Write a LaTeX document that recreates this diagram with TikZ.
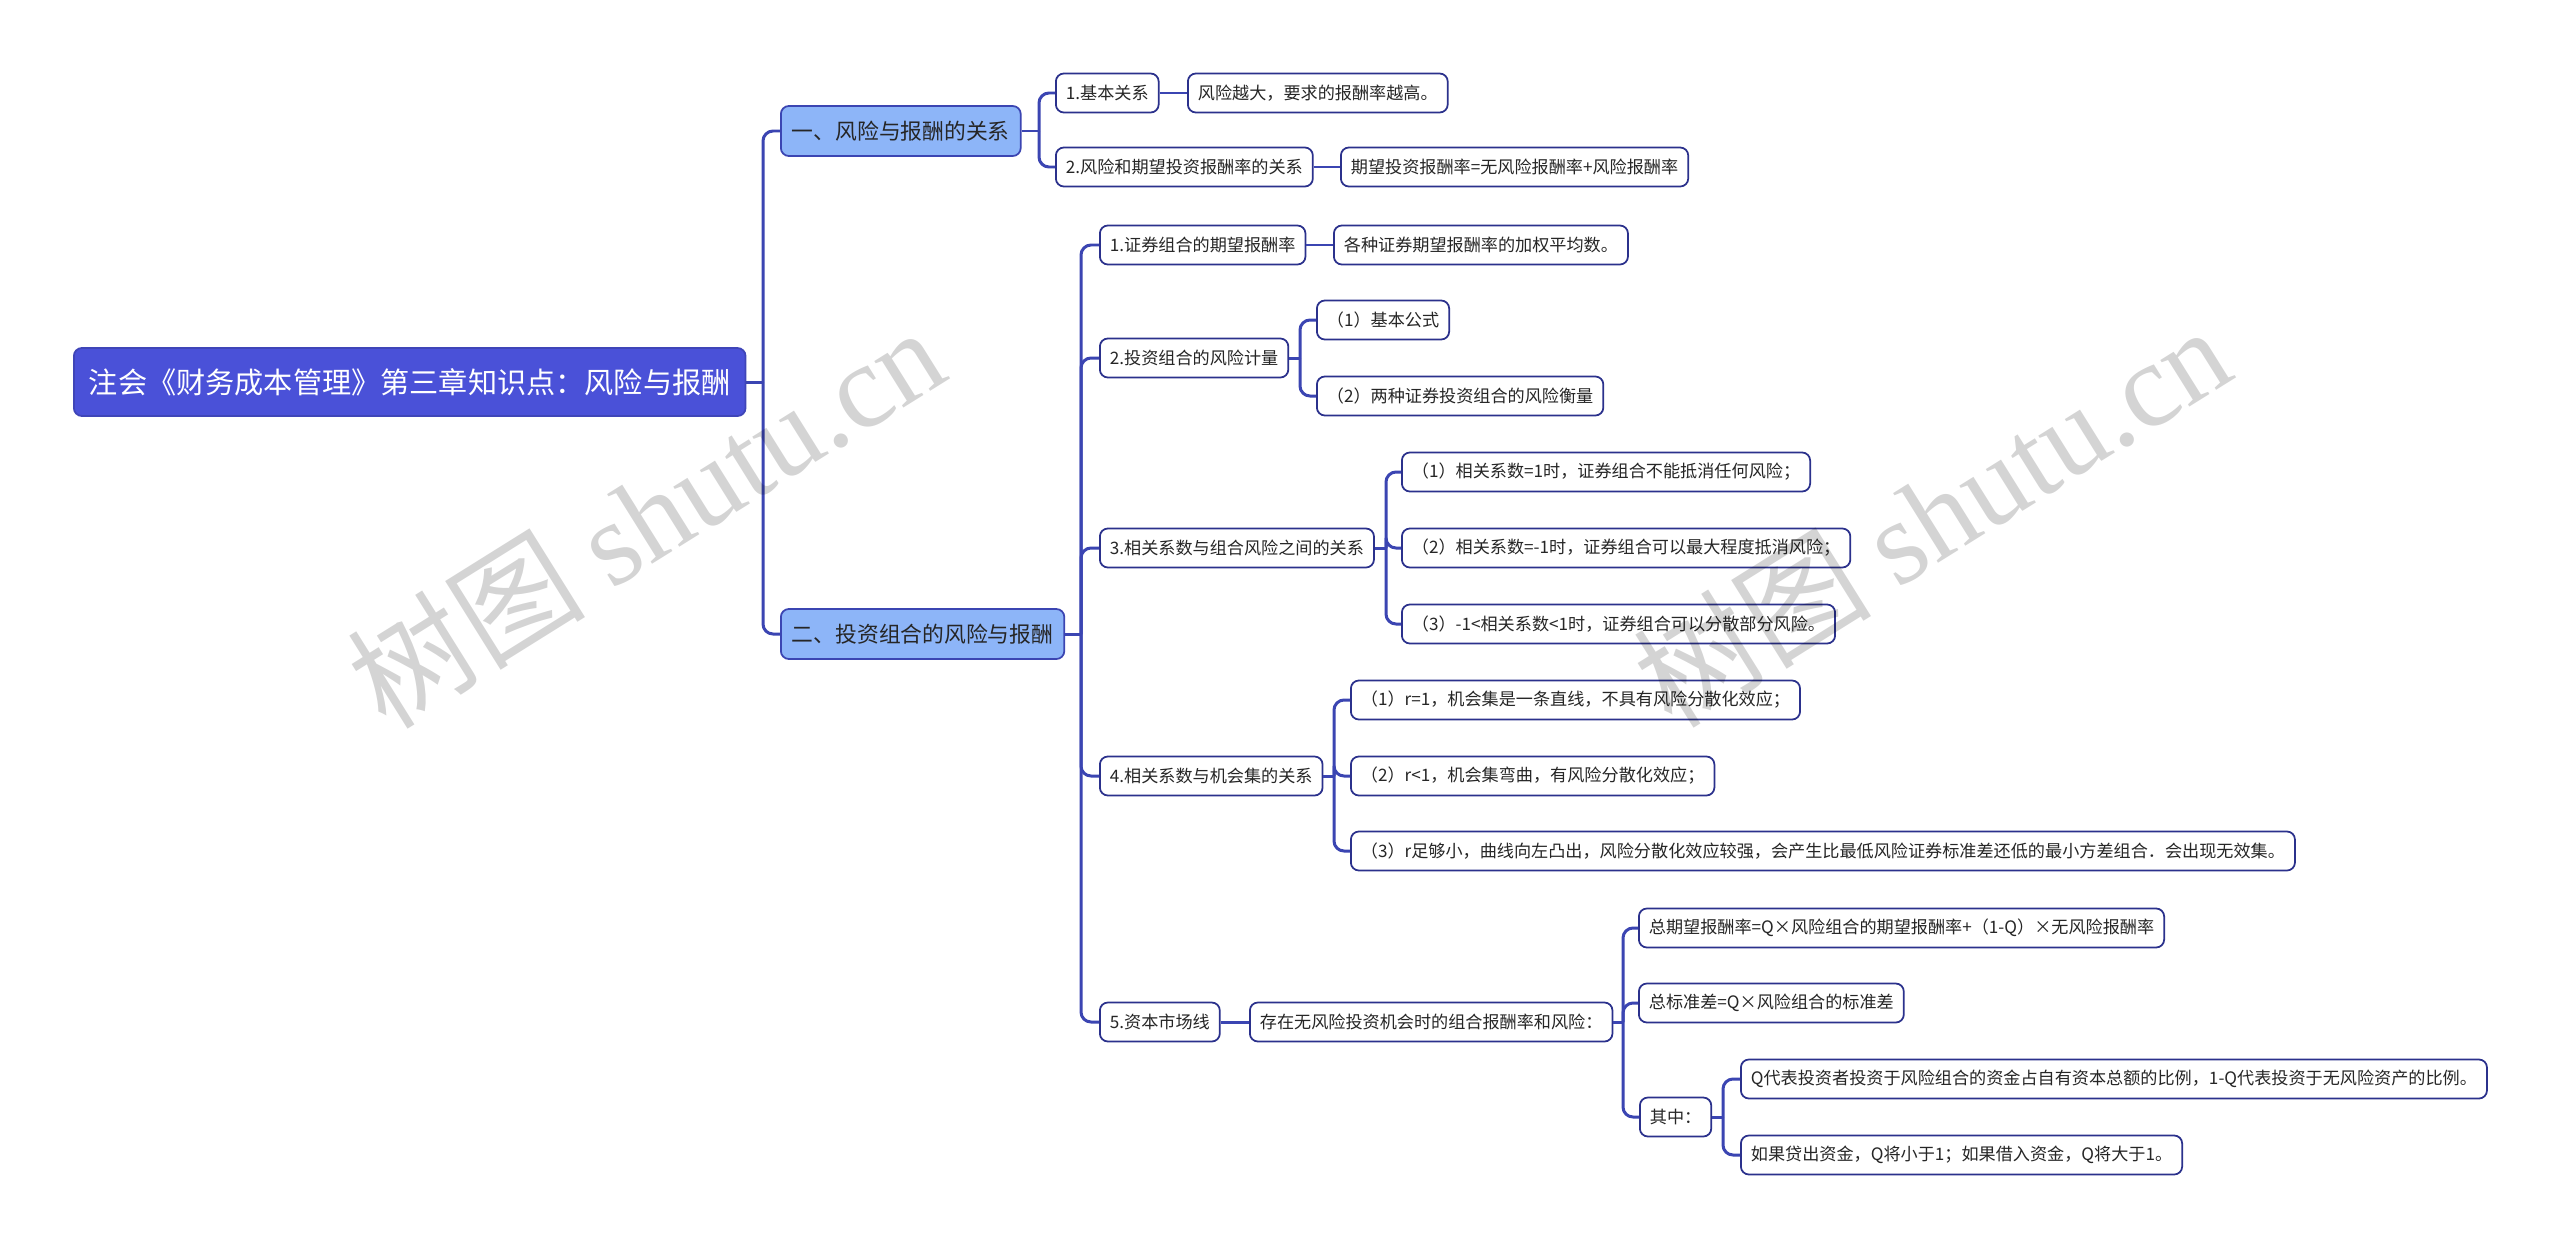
\documentclass[tikz,border=0pt]{standalone}
\usepackage{fontspec}
\setmainfont{Noto Sans CJK SC}
\newfontfamily\wmfont{Liberation Serif}
\definecolor{rootblue}{HTML}{4A51D8}
\definecolor{lineblue}{HTML}{3B45B2}
\definecolor{edgenavy}{HTML}{2B318C}
\definecolor{branchblue}{HTML}{8DB5F8}

\begin{document}
\begin{tikzpicture}[x=0.02cm, y=-0.02cm,
  root/.style={draw=rootblue!85!black, fill=rootblue, rounded corners=0.16cm, text=white,
               font=\fontsize{16.6}{20}\selectfont, inner xsep=0.3cm, inner ysep=0pt,
               minimum height=1.36cm, anchor=west, line width=1pt},
  branch/.style={draw=lineblue, fill=branchblue, rounded corners=0.16cm, text=black!85,
                 font=\fontsize{12.4}{15}\selectfont, inner xsep=0.22cm, inner ysep=0pt,
                 minimum height=1.0cm, anchor=west, line width=1pt},
  leaf/.style={draw=edgenavy, fill=white, rounded corners=0.16cm, text=black!85,
               font=\fontsize{9.75}{12}\selectfont, inner xsep=0.2cm, inner ysep=0pt,
               minimum height=0.78cm, anchor=west, line width=1pt},
  conn/.style={draw=lineblue, line width=1.7pt, rounded corners=0.2cm},
  wm/.style={text=black, text opacity=0.17, font=\fontsize{68}{72}\selectfont, rotate=32}
]
  \fill[white] (0,0) rectangle (2560,1248);
  \useasboundingbox (0,0) rectangle (2560,1248);

  \node[root] (root) at (73,382) {注会《财务成本管理》第三章知识点：风险与报酬};
  \node[branch] (b1) at (780,131) {一、风险与报酬的关系};
  \node[branch] (b2) at (780,634) {二、投资组合的风险与报酬};

  \node[leaf] (c11) at (1055,93) {1.基本关系};
  \node[leaf] (d11) at (1187,93) {风险越大，要求的报酬率越高。};
  \node[leaf] (c12) at (1055,167) {2.风险和期望投资报酬率的关系};
  \node[leaf] (d12) at (1340,167) {期望投资报酬率=无风险报酬率+风险报酬率};

  \node[leaf] (c21) at (1099,245) {1.证券组合的期望报酬率};
  \node[leaf] (d21) at (1333,245) {各种证券期望报酬率的加权平均数。};
  \node[leaf] (c22) at (1099,358) {2.投资组合的风险计量};
  \node[leaf] (e221) at (1316,320) {（1）基本公式};
  \node[leaf] (e222) at (1316,396) {（2）两种证券投资组合的风险衡量};
  \node[leaf] (c23) at (1099,548) {3.相关系数与组合风险之间的关系};
  \node[leaf] (e231) at (1401,472) {（1）相关系数=1时，证券组合不能抵消任何风险；};
  \node[leaf] (e232) at (1401,548) {（2）相关系数=-1时，证券组合可以最大程度抵消风险；};
  \node[leaf] (e233) at (1401,624) {（3）-1<相关系数<1时，证券组合可以分散部分风险。};
  \node[leaf] (c24) at (1099,776) {4.相关系数与机会集的关系};
  \node[leaf] (e241) at (1350,700) {（1）r=1，机会集是一条直线，不具有风险分散化效应；};
  \node[leaf] (e242) at (1350,776) {（2）r<1，机会集弯曲，有风险分散化效应；};
  \node[leaf] (e243) at (1350,851) {（3）r足够小，曲线向左凸出，风险分散化效应较强，会产生比最低风险证券标准差还低的最小方差组合．会出现无效集。};
  \node[leaf] (c25) at (1099,1022) {5.资本市场线};
  \node[leaf] (f25) at (1249,1022) {存在无风险投资机会时的组合报酬率和风险：};
  \node[leaf] (g1) at (1638,928) {总期望报酬率=Q×风险组合的期望报酬率+（1-Q）×无风险报酬率};
  \node[leaf] (g2) at (1638,1003) {总标准差=Q×风险组合的标准差};
  \node[leaf] (g3) at (1639,1117) {其中：};
  \node[leaf] (h1) at (1740,1079) {Q代表投资者投资于风险组合的资金占自有资本总额的比例，1-Q代表投资于无风险资产的比例。};
  \node[leaf] (h2) at (1740,1155) {如果贷出资金，Q将小于1；如果借入资金，Q将大于1。};

  \coordinate (j0) at (763,382);
  \coordinate (j1) at (1039,131);
  \coordinate (j2) at (1081,634);
  \coordinate (j22) at (1300,358);
  \coordinate (j23) at (1386,548);
  \coordinate (j24) at (1334,776);
  \coordinate (j25) at (1623,1022);
  \coordinate (j253) at (1723,1117);

  \draw[conn] (root.east) -- (j0);
  \foreach \n in {b1,b2} \draw[conn] (j0) |- (\n.west);
  \draw[conn] (b1.east) -- (j1);
  \foreach \n in {c11,c12} \draw[conn] (j1) |- (\n.west);
  \draw[conn] (c11.east) -- (d11.west);
  \draw[conn] (c12.east) -- (d12.west);
  \draw[conn] (b2.east) -- (j2);
  \foreach \n in {c21,c22,c23,c24,c25} \draw[conn] (j2) |- (\n.west);
  \draw[conn] (c21.east) -- (d21.west);
  \draw[conn] (c22.east) -- (j22);
  \foreach \n in {e221,e222} \draw[conn] (j22) |- (\n.west);
  \draw[conn] (c23.east) -- (j23);
  \foreach \n in {e231,e232,e233} \draw[conn] (j23) |- (\n.west);
  \draw[conn] (c24.east) -- (j24);
  \foreach \n in {e241,e242,e243} \draw[conn] (j24) |- (\n.west);
  \draw[conn] (c25.east) -- (f25.west);
  \draw[conn] (f25.east) -- (j25);
  \foreach \n in {g1,g2,g3} \draw[conn] (j25) |- (\n.west);
  \draw[conn] (g3.east) -- (j253);
  \foreach \n in {h1,h2} \draw[conn] (j253) |- (\n.west);

  \node[wm] (wm1) at (645,516) {树图 {\wmfont shutu.cn}};
  \node[wm] (wm2) at (1931,515) {树图 {\wmfont shutu.cn}};
\end{tikzpicture}
\end{document}
